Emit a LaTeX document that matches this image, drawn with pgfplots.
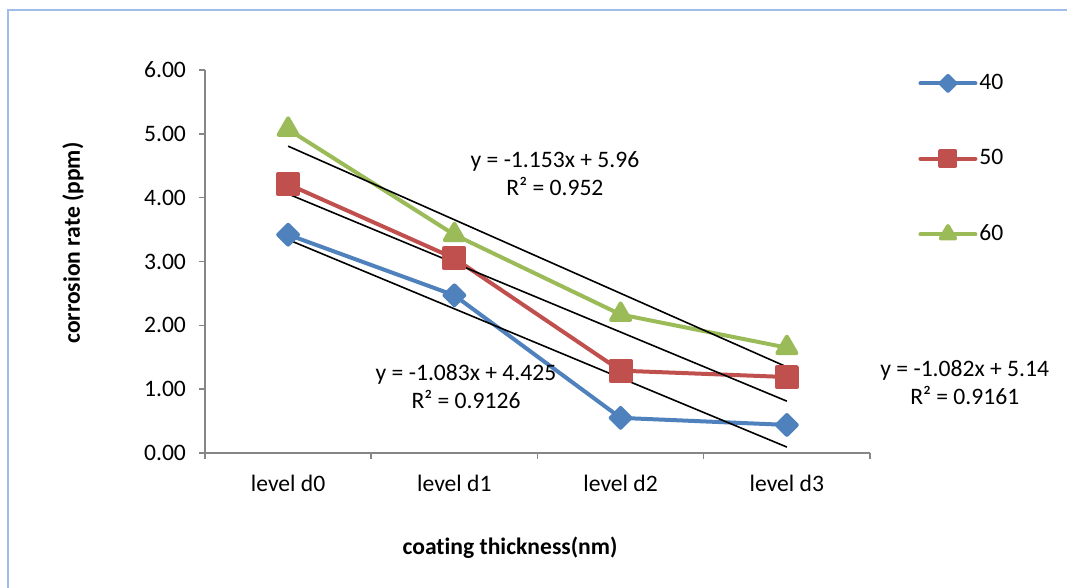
\documentclass[border=0pt]{standalone}
\usepackage{fontspec}
\setmainfont{Carlito}[Ligatures=NoCommon]
\usepackage{pgfplots}
\pgfplotsset{compat=1.18}
\definecolor{s40}{HTML}{4F81BD}
\definecolor{s50}{HTML}{C0504D}
\definecolor{s60}{HTML}{9BBB59}
\definecolor{axgray}{HTML}{868686}
\definecolor{framec}{RGB}{160,188,232}
\begin{document}
\begin{tikzpicture}
\useasboundingbox (0,0) rectangle (533.5pt,294pt);
\draw[framec, line width=0.8pt] (4pt,0) -- (4pt,289pt) -- (533.5pt,289pt);
\begin{axis}[
  at={(102.5pt,67.5pt)}, anchor=south west,
  scale only axis, width=332.5pt, height=191.5pt,
  xmin=0.5, xmax=4.5, ymin=0, ymax=6,
  axis x line=bottom, axis y line=left,
  axis line style={-, axgray, line width=0.75pt},
  xtick={1,2,3,4}, xticklabels={level d0, level d1, level d2, level d3},
  minor xtick={0.5,1.5,2.5,3.5,4.5},
  major x tick style={draw=none},
  minor x tick style={axgray, line width=0.75pt},
  ytick={0,1,2,3,4,5,6},
  y tick style={axgray, line width=0.75pt},
  tick align=outside, major tick length=3pt, minor tick length=3pt,
  yticklabel style={xshift=-3pt, /pgf/number format/.cd, fixed, fixed zerofill, precision=2},
  xticklabel style={yshift=-4.5pt},
  /pgf/number format/assume math mode=true,
  tick label style={font=\fontsize{11.8}{14}\selectfont, black},
  xlabel={coating thickness(nm)},
  xlabel style={font=\bfseries\fontsize{11.8}{14}\selectfont, at={(axis description cs:0.4586,-0.248)}, anchor=center},
  ylabel={corrosion rate (ppm)},
  ylabel style={font=\bfseries\fontsize{11.8}{14}\selectfont, at={(axis description cs:-0.1985,0.548)}, anchor=center},
  clip=false,
  legend style={draw=none, fill=none, at={(axis cs:4.789,4.606)}, anchor=west, inner sep=0pt, row sep=26.5pt, font=\fontsize{11.8}{14}\selectfont, nodes={inner sep=1pt}},
  legend cell align=left,
  legend image code/.code={\draw[mark repeat=2, mark phase=2, #1, every mark/.append style={scale=0.75}] plot coordinates {(0pt,0pt) (13.75pt,0pt) (27.5pt,0pt)};},
]
\addplot[s40, line width=2pt, line join=round, line cap=round, mark=square*, mark size=3.5pt, mark options={solid, fill=s40, rotate=45}] coordinates {(1,3.42) (2,2.47) (3,0.55) (4,0.44)};
\addlegendentry{40}
\addplot[s50, line width=2pt, line join=round, line cap=round, mark=square*, mark size=5pt, mark options={solid, fill=s50}] coordinates {(1,4.21) (2,3.05) (3,1.29) (4,1.19)};
\addlegendentry{50}
\addplot[s60, line width=2pt, line join=round, line cap=round, mark=triangle*, mark size=5.5pt, mark options={solid, fill=s60}] coordinates {(1,5.07) (2,3.42) (3,2.17) (4,1.65)};
\addlegendentry{60}
\addplot[black, line width=0.8pt, forget plot] coordinates {(1,3.342) (4,0.093)};
\addplot[black, line width=0.8pt, forget plot] coordinates {(1,4.058) (4,0.812)};
\addplot[black, line width=0.8pt, forget plot] coordinates {(1,4.807) (4,1.348)};
\node[align=center, font=\fontsize{11.8}{14}\selectfont, inner sep=0pt] at (axis cs:2.605,4.371) {y = -1.153x + 5.96\\R² = 0.952};
\node[align=center, font=\fontsize{11.8}{14}\selectfont, inner sep=0pt] at (axis cs:2.070,1.034) {y = -1.083x + 4.425\\R² = 0.9126};
\node[align=center, font=\fontsize{11.8}{14}\selectfont, inner sep=0pt] at (axis cs:5.07,1.104) {y = -1.082x + 5.14\\R² = 0.9161};
\end{axis}
\end{tikzpicture}
\end{document}
